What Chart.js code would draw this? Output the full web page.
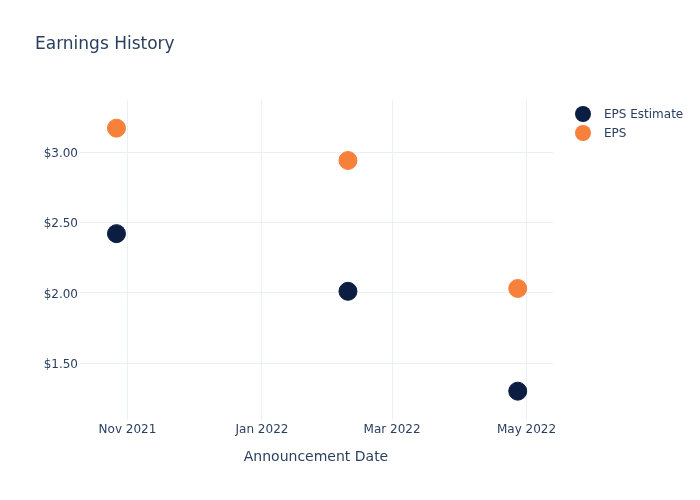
<!DOCTYPE html>
<html>
<head>
<meta charset="utf-8">
<script src="https://cdn.jsdelivr.net/npm/chart.js@4"></script>
<style>
html,body{margin:0;padding:0;background:#fff;}
#wrap{width:700px;height:500px;position:relative;}
</style>
</head>
<body>
<div id="wrap"><canvas id="c" width="700" height="500"></canvas></div>
<script>
const announcementDates = ['2021-10-27', '2022-02-09', '2022-04-27'];
const epsEstimate = [2.42, 2.01, 1.30];
const epsActual = [3.17, 2.94, 2.03];
const xTickDates = ['2021-11-01', '2022-01-01', '2022-03-01', '2022-05-01'];
const xTickLabels = ['Nov 2021', 'Jan 2022', 'Mar 2022', 'May 2022'];
const yTickValues = [1.5, 2.0, 2.5, 3.0];
const xRange = ['2021-10-10', '2022-05-13'];
const yRange = [1.095, 3.37];
const chartTitle = 'Earnings History';
const xAxisTitle = 'Announcement Date';

const ts = d => Date.parse(d + 'T00:00:00Z');
const FONT = "'DejaVu Sans', sans-serif";
const TXT = '#2a3f5f';
const GRID = '#ebf0f8';

const overlay = {
  id: 'overlay',
  afterDraw(chart) {
    const ctx = chart.ctx;
    ctx.save();
    ctx.fillStyle = TXT;
    ctx.textBaseline = 'middle';
    ctx.textAlign = 'left';
    ctx.font = '17px ' + FONT;
    ctx.fillText(chartTitle, 35, 45);
    ctx.font = '14px ' + FONT;
    ctx.textAlign = 'center';
    const a = chart.chartArea;
    ctx.fillText(xAxisTitle, (a.left + a.right) / 2, 457);
    ctx.textAlign = 'left';
    ctx.font = '12px ' + FONT;
    chart.data.datasets.forEach((ds, i) => {
      const y = 114 + i * 19;
      ctx.beginPath();
      ctx.arc(583, y, 8, 0, Math.PI * 2);
      ctx.fillStyle = ds.backgroundColor;
      ctx.fill();
      ctx.fillStyle = TXT;
      ctx.fillText(ds.label, 604, y + 1);
    });
    ctx.restore();
  }
};

new Chart(document.getElementById('c'), {
  type: 'scatter',
  data: {
    datasets: [
      {
        label: 'EPS Estimate',
        data: announcementDates.map((d, i) => ({x: ts(d), y: epsEstimate[i]})),
        backgroundColor: '#0b1e41',
        borderColor: '#0b1e41',
        pointRadius: 9,
        pointHoverRadius: 9
      },
      {
        label: 'EPS',
        data: announcementDates.map((d, i) => ({x: ts(d), y: epsActual[i]})),
        backgroundColor: '#f7803b',
        borderColor: '#f7803b',
        pointRadius: 9,
        pointHoverRadius: 9
      }
    ]
  },
  options: {
    responsive: false,
    animation: false,
    events: [],
    layout: {padding: {left: 0, right: 147, top: 100, bottom: 0}},
    plugins: {legend: {display: false}, title: {display: false}, tooltip: {enabled: false}},
    scales: {
      x: {
        type: 'linear',
        min: ts(xRange[0]),
        max: ts(xRange[1]),
        afterBuildTicks: s => { s.ticks = xTickDates.map(d => ({value: ts(d)})); },
        afterFit: s => { s.height = 80; },
        grid: {color: GRID, lineWidth: 1, drawTicks: false},
        border: {display: false},
        ticks: {
          padding: 3,
          color: TXT,
          font: {family: FONT, size: 12},
          maxRotation: 0,
          autoSkip: false,
          callback: v => { const i = xTickDates.findIndex(d => ts(d) === v); return i >= 0 ? xTickLabels[i] : ''; }
        }
      },
      y: {
        type: 'linear',
        min: yRange[0],
        max: yRange[1],
        afterBuildTicks: s => { s.ticks = yTickValues.map(v => ({value: v})); },
        afterFit: s => { s.width = 79; },
        grid: {color: GRID, lineWidth: 1, drawTicks: false},
        border: {display: false},
        ticks: {
          padding: 1,
          labelOffset: 2,
          color: TXT,
          font: {family: FONT, size: 12},
          callback: v => '$' + Number(v).toFixed(2)
        }
      }
    }
  },
  plugins: [overlay]
});
</script>
</body>
</html>
